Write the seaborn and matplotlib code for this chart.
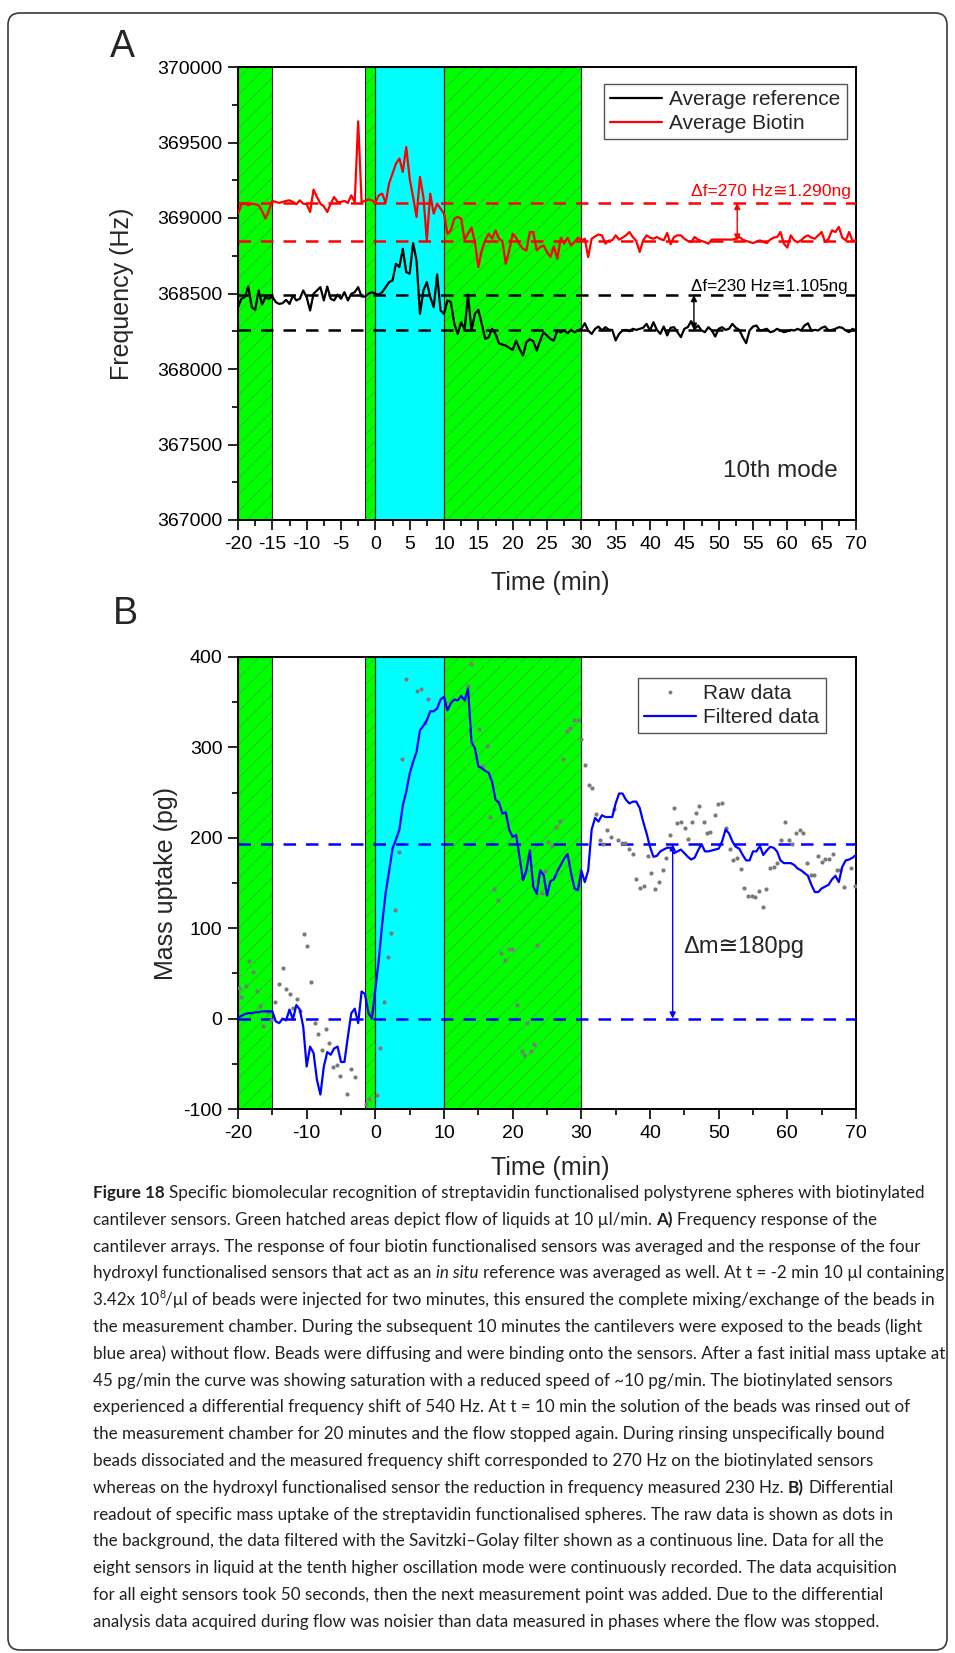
import numpy as np
import pandas as pd
import matplotlib
matplotlib.use("Agg")
import matplotlib.pyplot as plt
import seaborn as sns
from matplotlib.patches import FancyBboxPatch
from matplotlib.lines import Line2D
from matplotlib.ticker import MultipleLocator, FuncFormatter

# ---------------- data ----------------
T_START, T_STEP = -20.0, 0.5   # sampling of the averaged / filtered curves (min)

f_reference = [
    368409, 368465, 368476, 368546, 368409, 368392, 368520, 368427, 368476, 368465, 368480,
    368443, 368431, 368436, 368458, 368431, 368487, 368454, 368465, 368520, 368476,
    368387, 368498, 368520, 368542, 368454, 368546, 368465, 368454, 368493, 368465,
    368509, 368454, 368498, 368509, 368542, 368480, 368480, 368498, 368509, 368498,
    368493, 368509, 368542, 368575, 368586, 368697, 368675, 368796, 368642, 368631,
    368834, 368719, 368365, 368520, 368575, 368476, 368409, 368626, 368387, 368365,
    368454, 368443, 368299, 368232, 368310, 368261, 368493, 368255, 368365, 368392,
    368299, 368199, 368210, 368266, 368232, 368170, 368162, 368155, 368140, 368126,
    368188, 368133, 368089, 368177, 368197, 368184, 368122, 368188, 368243, 368221,
    368199, 368188, 368255, 368243, 368255, 368237, 368259, 368243, 368255, 368266,
    368303, 368255, 368232, 368266, 368281, 368255, 368277, 368260, 368259, 368189,
    368233, 368255, 368259, 368250, 368266, 368259, 368266, 368273, 368299, 368255,
    368310, 368259, 368233, 368281, 368222, 368273, 368277, 368244, 368211, 368266,
    368277, 368317, 368266, 368288, 368255, 368244, 368277, 368255, 368215, 368266,
    368277, 368259, 368266, 368299, 368273, 368259, 368211, 368171, 368255, 368281,
    368288, 368255, 368259, 368266, 368244, 368250, 368266, 368255, 368244, 368250,
    368259, 368255, 368266, 368255, 368288, 368303, 368255, 368259, 368255, 368273,
    368281, 368255, 368259, 368266, 368277, 368273, 368255, 368244, 368266, 368255,
]

f_biotin = [
    369029, 369091, 369100, 369084, 369095, 369091, 369084, 369046, 368996, 369051, 369113,
    369106, 369100, 369106, 369113, 369117, 369106, 369091, 369117, 369095, 369091,
    369040, 369188, 369139, 369095, 369077, 369040, 369095, 369139, 369106, 369106,
    369113, 369100, 369150, 369106, 369640, 369106, 369113, 369122, 369117, 369100,
    369150, 369161, 369100, 369228, 369294, 369360, 369394, 369305, 369470, 369261,
    369139, 369007, 369272, 369139, 368852, 369161, 369029, 369095, 369062, 369029,
    368896, 368918, 368996, 369007, 368996, 368856, 368896, 368936, 368841, 368675,
    368785, 368852, 368896, 368863, 368918, 368863, 368847, 368697, 368785, 368896,
    368869, 368825, 368796, 368785, 368907, 368907, 368785, 368807, 368818, 368774,
    368741, 368812, 368730, 368869, 368830, 368869, 368818, 368841, 368869, 368852,
    368863, 368741, 368863, 368878, 368891, 368885, 368830, 368850, 368852, 368885,
    368857, 368870, 368885, 368907, 368874, 368848, 368775, 368852, 368885, 368870,
    368863, 368874, 368861, 368852, 368901, 368826, 368874, 368885, 368885, 368863,
    368848, 368841, 368874, 368857, 368848, 368841, 368830, 368857, 368857, 368857,
    368857, 368857, 368857, 368857, 368863, 368874, 368857, 368848, 368841, 368834,
    368843, 368852, 368841, 368834, 368857, 368870, 368874, 368907, 368830, 368804,
    368885, 368852, 368839, 368852, 368874, 368885, 368870, 368863, 368885, 368907,
    368841, 368863, 368918, 368907, 368941, 368870, 368852, 368907, 368848, 368852,
]

m_filtered = [
    1, 3, 5, 6, 6, 7, 7, 8, 8, 8, 8,
    -3, -5, 0, -2, 10, -1, 15, 10, -9, -53,
    -31, -38, -68, -84, -53, -37, -40, -33, -31, -48,
    -48, -20, 6, 11, -5, 30, 27, 6, 0, 32,
    65, 105, 139, 163, 188, 198, 209, 236, 251, 271,
    284, 295, 319, 324, 330, 340, 340, 343, 353, 356,
    341, 349, 353, 352, 357, 352, 365, 306, 299, 279,
    277, 274, 272, 262, 242, 239, 227, 228, 209, 201,
    203, 179, 153, 164, 186, 146, 138, 164, 159, 136,
    152, 154, 163, 170, 177, 182, 161, 144, 142, 164,
    151, 164, 209, 222, 218, 225, 223, 223, 223, 238,
    249, 249, 242, 238, 240, 240, 233, 218, 205, 190,
    179, 180, 185, 187, 189, 189, 183, 185, 187, 183,
    179, 176, 178, 186, 193, 185, 185, 186, 187, 188,
    196, 209, 205, 196, 190, 188, 181, 175, 175, 185,
    185, 191, 181, 186, 190, 189, 185, 175, 172, 172,
    172, 170, 166, 164, 161, 158, 148, 140, 140, 144,
    146, 148, 154, 158, 151, 168, 175, 176, 178, 181,
]

t_raw = [
    -19.8, -19.5, -18.9, -18.4, -17.8, -17.3, -16.8, -16.3, -15.7, -15.2,
    -14.6, -14.1, -13.5, -13.0, -12.5, -12.0, -11.4, -10.9, -10.4, -9.9,
    -9.4, -8.8, -8.3, -7.7, -7.2, -6.7, -6.1, -5.6, -5.1, -4.1,
    -3.6, -3.0, -1.4, -0.9, 0.2, 0.7, 1.2, 1.8, 2.3, 2.8,
    3.4, 3.9, 4.5, 6.0, 6.6, 7.2, 7.7, 13.5, 14.0, 15.1,
    15.6, 16.2, 16.7, 17.3, 17.8, 18.3, 18.9, 19.4, 19.9, 20.6,
    21.3, 21.7, 22.1, 22.6, 23.1, 23.6, 24.2, 24.7, 25.2, 25.8,
    26.3, 26.9, 27.4, 27.9, 28.4, 29.0, 29.5, 30.0, 30.6, 31.1,
    31.6, 32.1, 32.7, 33.2, 33.7, 34.3, 34.8, 35.3, 35.9, 36.4,
    37.0, 37.5, 38.0, 38.6, 39.1, 39.7, 40.2, 40.8, 41.3, 41.9,
    42.4, 42.9, 43.5, 43.9, 44.5, 45.1, 45.6, 46.1, 46.7, 47.2,
    47.8, 48.3, 48.8, 49.4, 49.9, 50.5, 51.0, 51.6, 52.1, 52.6,
    53.2, 53.7, 54.2, 54.8, 55.3, 55.9, 56.4, 56.9, 57.5, 58.0,
    58.5, 59.1, 59.6, 60.2, 60.7, 61.2, 61.8, 62.3, 62.9, 63.4,
    63.9, 64.5, 65.0, 65.5, 66.1, 66.6, 67.2, 67.7, 68.2, 69.3,
    69.9,
]
m_raw = [
    34, 24, 36, 64, 52, 31, 14, -8, 7, -2,
    18, 38, 56, 33, 27, 12, 22, 8, 94, 80,
    41, -5, -17, -35, -12, -27, -53, -51, -63, -83,
    -56, -65, -95, -89, -85, -32, 18, 68, 95, 120,
    184, 287, 376, 362, 365, 327, 354, 368, 392, 320,
    279, 301, 223, 143, 131, 73, 65, 77, 77, 15,
    -36, -40, -5, -36, -28, 81, 139, 163, 195, 191,
    212, 219, 287, 318, 321, 330, 330, 309, 280, 258,
    255, 226, 198, 193, 209, 201, 232, 198, 194, 194,
    188, 182, 154, 144, 147, 180, 161, 143, 151, 164,
    178, 203, 233, 216, 218, 211, 199, 218, 227, 235,
    218, 205, 206, 225, 237, 238, 211, 188, 175, 178,
    166, 144, 136, 136, 135, 141, 123, 143, 167, 168,
    172, 198, 218, 198, 193, 205, 209, 205, 172, 159,
    159, 180, 173, 177, 177, 182, 164, 164, 146, 167,
    147,
]

flow_phases = [(-20, -15), (-1.5, 0), (10, 30)]   # green hatched
bead_phase = (0, 10)                               # light blue
ref_levels = [368490, 368260]
bio_levels = [369100, 368850]
mass_levels = [193, 0]

# ---------------- style ----------------
sns.set_style("ticks")
plt.rcParams["font.family"] = ["Liberation Sans", "DejaVu Sans"]
plt.rcParams["axes.unicode_minus"] = False
plt.rcParams["hatch.linewidth"] = 0.5
plt.rcParams["hatch.color"] = "#3aa83a"

W, H = 955, 1653
fig = plt.figure(figsize=(W / 100, H / 100), dpi=100)

# pixel overlay for frame, panel letters and caption
bg = fig.add_axes([0, 0, 1, 1])
bg.set_xlim(0, W)
bg.set_ylim(H, 0)
bg.axis("off")
bg.patch.set_visible(False)
bg.add_patch(FancyBboxPatch((8, 13), 939, 1637, boxstyle="round,pad=0,rounding_size=12",
                            fill=False, ec="#3a3a3a", lw=1.2))

axA = fig.add_axes([238 / W, 1 - 520 / H, 618 / W, 453 / H])
axB = fig.add_axes([238 / W, 1 - 1109 / H, 618 / W, 452 / H])


def shade(ax):
    for a, b in flow_phases:
        ax.axvspan(a, b, facecolor="#00ff00", edgecolor="#3aa83a", hatch="//", lw=0, zorder=0)
        ax.axvspan(a, b, fill=False, edgecolor="#222222", lw=0.8, zorder=0.5)
    ax.axvspan(*bead_phase, facecolor="#00ffff", edgecolor="#222222", lw=0.8, zorder=0)


def style_axes(ax):
    for s in ax.spines.values():
        s.set_linewidth(1.4)
        s.set_color("black")
    ax.tick_params(which="both", direction="out", top=False, right=False, left=True,
                   bottom=True, width=1.2, labelsize=14, pad=4, colors="black")
    ax.tick_params(which="major", length=7.2)
    ax.tick_params(which="minor", length=4)
    ax.yaxis.set_major_formatter(FuncFormatter(lambda v, p: f"{v:.0f}"))
    ax.xaxis.set_major_formatter(FuncFormatter(lambda v, p: f"{v:.0f}"))


t = T_START + T_STEP * np.arange(len(f_reference))
dfA = pd.DataFrame({"t": t, "ref": f_reference, "bio": f_biotin})
dfB = pd.DataFrame({"t": t, "m": m_filtered})
dfR = pd.DataFrame({"t": t_raw, "m": m_raw})

# ---------------- panel A ----------------
shade(axA)
for lv in bio_levels:
    axA.axhline(lv, color="red", lw=1.8, ls=(0, (5, 4)), zorder=3)
for lv in ref_levels:
    axA.axhline(lv, color="black", lw=1.8, ls=(0, (5, 4)), zorder=3)
sns.lineplot(data=dfA, x="t", y="ref", ax=axA, color="black", lw=1.6, zorder=4)
sns.lineplot(data=dfA, x="t", y="bio", ax=axA, color="red", lw=1.6, zorder=4)
axA.set_xlim(-20, 70)
axA.set_ylim(367000, 370000)
axA.xaxis.set_major_locator(MultipleLocator(5))
axA.xaxis.set_minor_locator(MultipleLocator(2.5))
axA.yaxis.set_major_locator(MultipleLocator(500))
axA.yaxis.set_minor_locator(MultipleLocator(250))
style_axes(axA)
axA.set_xlabel("Time (min)", fontsize=18)
axA.set_ylabel("Frequency (Hz)", fontsize=18)
axA.xaxis.label.set_va("center")
axA.yaxis.label.set_va("center")
axA.xaxis.set_label_coords(0.505, -0.139)
axA.yaxis.set_label_coords(-0.188, 0.5)

arrow_kw = dict(shrinkA=0, shrinkB=0, mutation_scale=9)
axA.annotate("", xy=(52.7, bio_levels[0]), xytext=(52.7, bio_levels[1]),
             arrowprops=dict(arrowstyle="<|-|>", color="red", lw=1.0, **arrow_kw), zorder=5)
axA.annotate("", xy=(46.4, ref_levels[0]), xytext=(46.4, ref_levels[1]),
             arrowprops=dict(arrowstyle="<|-|>", color="black", lw=1.0, **arrow_kw), zorder=5)
axA.text(69.3, 369145, "Δf=270 Hz≅1.290ng", color="red", fontsize=12.6,
         ha="right", va="baseline", zorder=6)
axA.text(68.8, 368516, "Δf=230 Hz≅1.105ng", color="black", fontsize=12.3,
         ha="right", va="baseline", zorder=6)
axA.text(67.4, 367326, "10th mode", fontsize=17.5, ha="right", va="center", zorder=6)

legA = axA.legend([Line2D([], [], color="black", lw=1.6), Line2D([], [], color="red", lw=1.6)],
                  ["Average reference", "Average Biotin"], loc="upper right",
                  bbox_to_anchor=(0.985, 0.9625), fontsize=15, frameon=True, fancybox=False,
                  edgecolor="#555555", framealpha=1, handlelength=2.5, handletextpad=0.35,
                  borderpad=0.3, labelspacing=0.22, borderaxespad=0)
legA.get_frame().set_linewidth(1.0)
legA.set_zorder(10)

# ---------------- panel B ----------------
shade(axB)
for lv in mass_levels:
    axB.axhline(lv, color="blue", lw=1.8, ls=(0, (5, 4)), zorder=3)
sns.scatterplot(data=dfR, x="t", y="m", ax=axB, color="#7a7a7a", s=9, linewidth=0, zorder=3.5)
sns.lineplot(data=dfB, x="t", y="m", ax=axB, color="blue", lw=1.6, zorder=4)
axB.set_xlim(-20, 70)
axB.set_ylim(-100, 400)
axB.xaxis.set_major_locator(MultipleLocator(10))
axB.xaxis.set_minor_locator(MultipleLocator(5))
axB.yaxis.set_major_locator(MultipleLocator(100))
axB.yaxis.set_minor_locator(MultipleLocator(50))
style_axes(axB)
axB.set_xlabel("Time (min)", fontsize=18)
axB.set_ylabel("Mass uptake (pg)", fontsize=18)
axB.xaxis.label.set_va("center")
axB.yaxis.label.set_va("center")
axB.xaxis.set_label_coords(0.505, -0.1305)
axB.yaxis.set_label_coords(-0.1165, 0.5)
axB.annotate("", xy=(43.3, mass_levels[1]), xytext=(43.3, mass_levels[0]),
             arrowprops=dict(arrowstyle="<|-|>", color="blue", lw=1.0, **arrow_kw), zorder=5)
axB.text(44.9, 79, "Δm≅180pg", fontsize=17, ha="left", va="center", zorder=6)

legB = axB.legend([Line2D([], [], marker="o", ls="", color="#7a7a7a", markersize=2.8,
                          markeredgewidth=0),
                   Line2D([], [], color="blue", lw=1.6)],
                  ["Raw data", "Filtered data"], loc="upper right",
                  bbox_to_anchor=(0.951, 0.9535), fontsize=15, frameon=True, fancybox=False,
                  edgecolor="#555555", framealpha=1, handlelength=2.5, handletextpad=0.35,
                  borderpad=0.3, labelspacing=0.22, borderaxespad=0)
legB.get_frame().set_linewidth(1.0)
legB.set_zorder(10)

# ---------------- panel letters ----------------
bg.text(122, 57, "A", fontsize=27, ha="center", va="baseline")
bg.text(125, 624, "B", fontsize=27, ha="center", va="baseline")

# ---------------- caption ----------------
caption_lines = [
    [("Figure 18", "b", False), ("Specific biomolecular recognition of streptavidin functionalised polystyrene spheres with biotinylated", "n", True)],
    [("cantilever sensors. Green hatched areas depict flow of liquids at 10 µl/min.", "n", False), ("A)", "b", True), ("Frequency response of the", "n", True)],
    [("cantilever arrays. The response of four biotin functionalised sensors was averaged and the response of the four", "n", False)],
    [("hydroxyl functionalised sensors that act as an", "n", False), ("in situ", "i", True), ("reference was averaged as well. At t = -2 min 10 µl containing", "n", True)],
    [("3.42x 10", "n", False), ("8", "sup", False), ("/µl of beads were injected for two minutes, this ensured the complete mixing/exchange of the beads in", "n", False)],
    [("the measurement chamber. During the subsequent 10 minutes the cantilevers were exposed to the beads (light", "n", False)],
    [("blue area) without flow. Beads were diffusing and were binding onto the sensors. After a fast initial mass uptake at", "n", False)],
    [("45 pg/min the curve was showing saturation with a reduced speed of ~10 pg/min. The biotinylated sensors", "n", False)],
    [("experienced a differential frequency shift of 540 Hz. At t = 10 min the solution of the beads was rinsed out of", "n", False)],
    [("the measurement chamber for 20 minutes and the flow stopped again. During rinsing unspecifically bound", "n", False)],
    [("beads dissociated and the measured frequency shift corresponded to 270 Hz on the biotinylated sensors", "n", False)],
    [("whereas on the hydroxyl functionalised sensor the reduction in frequency measured 230 Hz.", "n", False), ("B)", "b", True), ("Differential", "n", True)],
    [("readout of specific mass uptake of the streptavidin functionalised spheres. The raw data is shown as dots in", "n", False)],
    [("the background, the data filtered with the Savitzki–Golay filter shown as a continuous line. Data for all the", "n", False)],
    [("eight sensors in liquid at the tenth higher oscillation mode were continuously recorded. The data acquisition", "n", False)],
    [("for all eight sensors took 50 seconds, then the next measurement point was added. Due to the differential", "n", False)],
    [("analysis data acquired during flow was noisier than data measured in phases where the flow was stopped.", "n", False)],
]

CAP_COLOR = "#231f20"
renderer = fig.canvas.get_renderer()


def seg_kw(style, fs):
    kw = dict(family=["Lato", "DejaVu Sans"], fontsize=fs, color=CAP_COLOR)
    if style == "b":
        kw["weight"] = "bold"
    if style == "i":
        kw["style"] = "italic"
    if style == "sup":
        kw["fontsize"] = fs * 0.62
    return kw


def text_width(s, kw):
    tx = bg.text(0, 0, s, **kw)
    w = tx.get_window_extent(renderer).width
    tx.remove()
    return w


def draw_line(segs, x0, y, fs, draw=True):
    nkw = seg_kw("n", fs)
    sp = text_width("a a", nkw) - text_width("aa", nkw)
    x = x0
    for txt, style, space in segs:
        if space:
            x += sp
        kw = seg_kw(style, fs)
        dy = -0.42 * fs * 100 / 72 if style == "sup" else 0
        if draw:
            bg.text(x, y + dy, txt, ha="left", va="baseline", **kw)
        x += text_width(txt, kw)
    return x - x0


CAP_LEFT, CAP_RIGHT = 93, 941
fs0 = 13.0
w_max = max(draw_line(segs, 0, 0, fs0, draw=False) for segs in caption_lines)
cap_fs = fs0 * (CAP_RIGHT - CAP_LEFT) / w_max
for i, segs in enumerate(caption_lines):
    draw_line(segs, CAP_LEFT, 1198 + 26.8 * i, cap_fs)

fig.savefig("out.png", dpi=100)
